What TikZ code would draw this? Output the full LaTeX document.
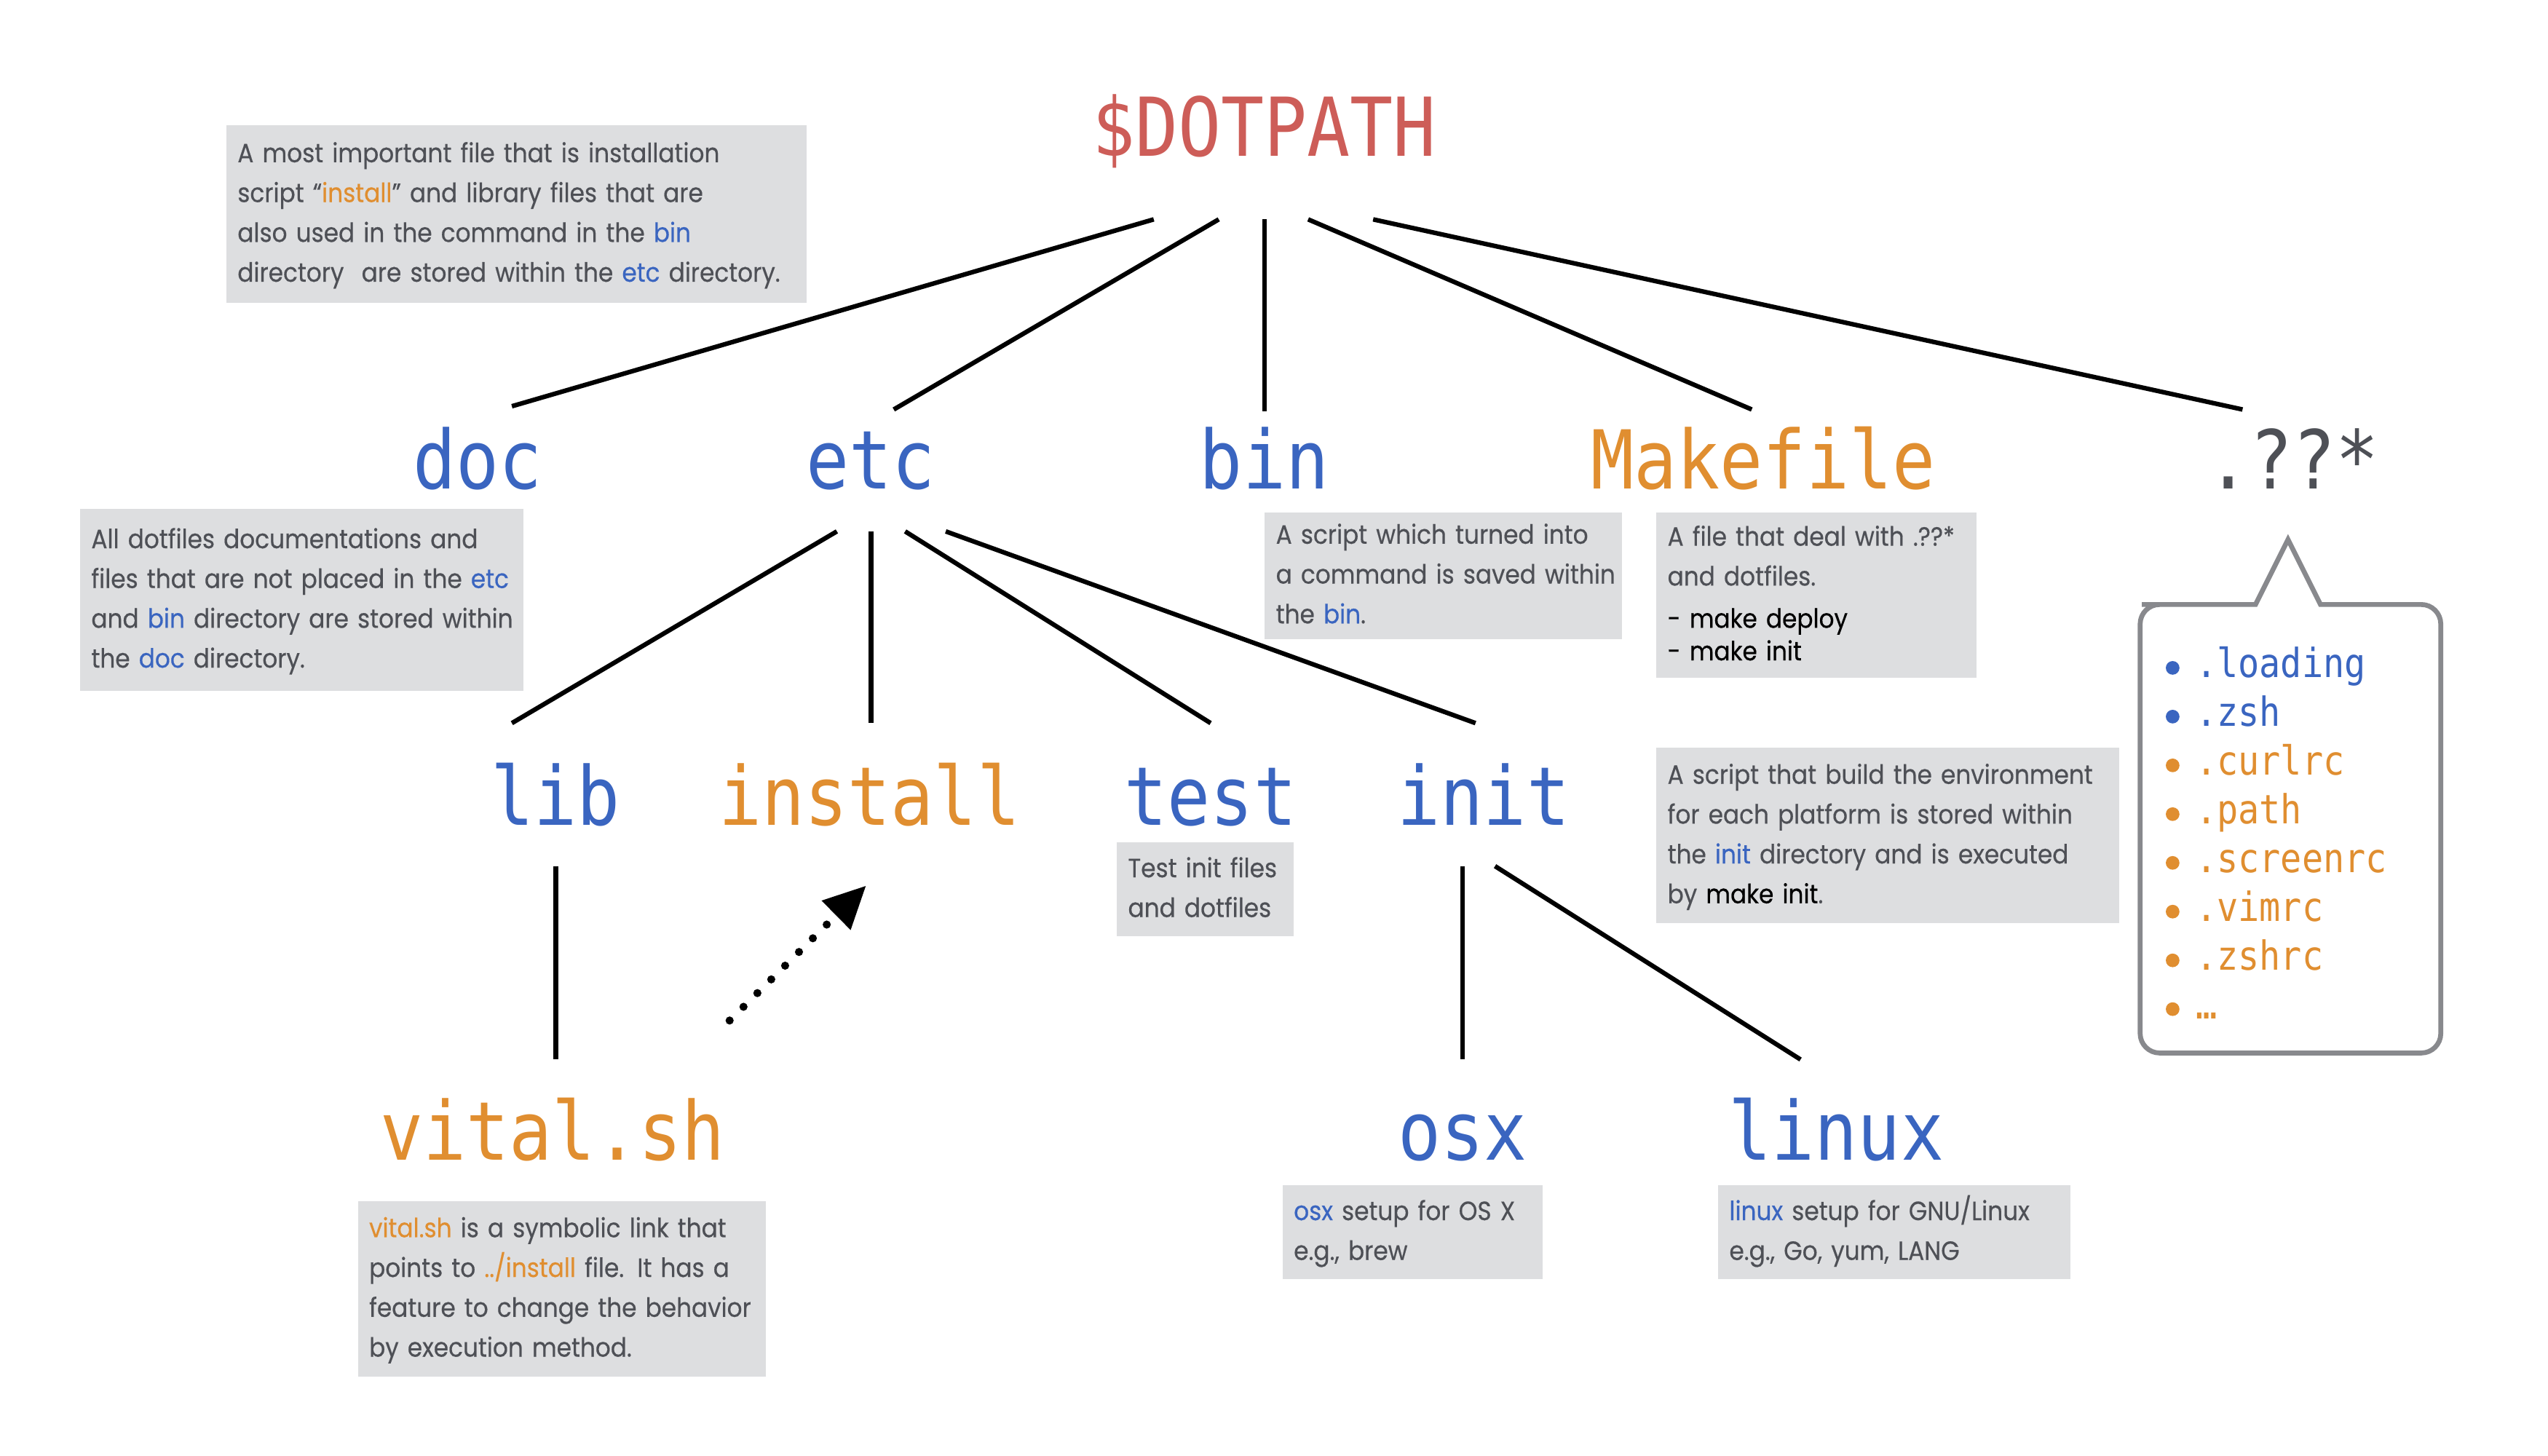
\documentclass[tikz,border=0pt]{standalone}
\usepackage{fontspec}
\usetikzlibrary{calc,arrows.meta}
\newfontfamily\descfont[FakeStretch=0.9,FakeBold=0.4]{Poppins}
\newfontfamily\labfont[FakeStretch=0.88]{DejaVu Sans Mono}
\definecolor{dblue}{RGB}{58,101,192}
\definecolor{dorange}{RGB}{224,142,48}
\definecolor{dred}{RGB}{205,93,88}
\definecolor{txtgray}{RGB}{78,80,86}
\definecolor{boxgray}{RGB}{221,222,224}
\definecolor{bubblegray}{RGB}{136,137,141}
\newcommand\cb[1]{\textcolor{dblue}{#1}}
\newcommand\co[1]{\textcolor{dorange}{#1}}
\newcommand\ck[1]{\textcolor{black}{#1}}
\newcommand\dlines[1]{\begin{tabular}{@{}l@{}}#1\end{tabular}}
\tikzset{
  lab/.style={font=\labfont\fontsize{50}{50}\selectfont, inner sep=0pt, anchor=base},
  item/.style={font=\labfont\fontsize{24.7}{24.7}\selectfont, inner sep=0pt, anchor=base west},
  desc/.style={fill=boxgray, text=txtgray, font=\descfont\fontsize{16.3}{24.5}\selectfont,
    align=left, anchor=north west, inner xsep=7pt, inner ysep=0pt},
  conn/.style={line width=2.8pt, black},
  symlink/.style={line width=5pt, line cap=round, dash pattern=on 0pt off 12pt,
    -{Triangle[length=26pt,width=24pt]}},
  bubble/.style={line width=3pt, draw=bubblegray, fill=white, line join=miter},
}
\begin{document}
\begin{tikzpicture}[x=1pt,y=-1pt]
\useasboundingbox (0,0) rectangle (1568,896);

% labels
\node[lab, text=dred] (root) at (778,96) {\$DOTPATH};
\node[lab, text=dblue] (doc) at (294,301) {doc};
\node[lab, text=dblue] (etc) at (536,301) {etc};
\node[lab, text=dblue] (bin) at (778,301) {bin};
\node[lab, text=dorange] (make) at (1085,301) {Makefile};
\node[lab, text=txtgray] (dots) at (1411,301) {.??*};
\node[lab, text=dblue] (lib) at (342,508) {lib};
\node[lab, text=dorange] (install) at (535,508) {install};
\node[lab, text=dblue] (test) at (745,508) {test};
\node[lab, text=dblue] (init) at (913,508) {init};
\node[lab, text=dorange] (vital) at (340,714) {vital.sh};
\node[lab, text=dblue] (osx) at (900,714) {osx};
\node[lab, text=dblue] (linux) at (1130,714) {linux};

% connectors
\draw[conn] ($(root.base)+(-68,39)$) -- ($(doc.base)+(21,-51)$);
\draw[conn] ($(root.base)+(-28,39)$) -- ($(etc.base)+(14,-49)$);
\draw[conn] ($(root.base)+(0,39)$) -- ($(bin.base)+(0,-48)$);
\draw[conn] ($(root.base)+(27,39)$) -- ($(make.base)+(-7,-49)$);
\draw[conn] ($(root.base)+(67,39)$) -- ($(dots.base)+(-31,-49)$);
\draw[conn] ($(etc.base)+(-21,26)$) -- ($(lib.base)+(-27,-63)$);
\draw[conn] ($(etc.base)+(0,26)$) -- ($(install.base)+(1,-63)$);
\draw[conn] ($(etc.base)+(21,26)$) -- ($(test.base)+(0,-63)$);
\draw[conn] ($(etc.base)+(46,26)$) -- ($(init.base)+(-5,-63)$);
\draw[conn] ($(lib.base)+(0,25)$) -- ($(vital.base)+(2,-62)$);
\draw[conn] ($(init.base)+(-13,25)$) -- ($(osx.base)+(0,-62)$);
\draw[conn] ($(init.base)+(7,25)$) -- ($(linux.base)+(-22,-62)$);
\draw[symlink] ($(vital.base)+(109,-86)$) -- ($(install.base)+(-2,37)$);

% descriptions
\node[desc, text width=343pt, minimum height=109pt] (note1) at (139,77)
  {\dlines{A most important file that is installation\\
   script “\co{install}” and library files that are\\
   also used in the command in the \cb{bin}\\
   directory\ \ are stored within the \cb{etc} directory.}};
\node[desc, text width=259pt, minimum height=112pt] (notedoc) at (49,313)
  {\dlines{All dotfiles documentations and\\
   files that are not placed in the \cb{etc}\\
   and \cb{bin} directory are stored within\\
   the \cb{doc} directory.}};
\node[desc, text width=206pt, minimum height=78pt] (notebin) at (778,315)
  {\dlines{A script which turned into\\
   a command is saved within\\
   the \cb{bin}.}};
\node[desc, text width=183pt, minimum height=102pt] (notemake) at (1019,315)
  {\dlines{A file that deal with .??*\\
   and dotfiles.\\[1.5pt]
   \ck{- make deploy}\\[-4.5pt]
   \ck{- make init}}};
\node[desc, text width=271pt, minimum height=108pt] (noteinit) at (1019,460)
  {\dlines{A script that build the environment\\
   for each platform is stored within\\
   the \cb{init} directory and is executed\\
   by \ck{make init}.}};
\node[desc, text width=95pt, minimum height=58pt] (notetest) at (687,518)
  {\dlines{Test init files\\
   and dotfiles}};
\node[desc, text width=237pt, minimum height=108pt] (notevital) at (220,739)
  {\dlines{\co{vital.sh} is a symbolic link that\\
   points to \co{../install} file. It has a\\
   feature to change the behavior\\
   by execution method.}};
\node[desc, text width=146pt, minimum height=58pt] (noteosx) at (789,729)
  {\dlines{\cb{osx} setup for OS X\\
   e.g., brew}};
\node[desc, text width=203pt, minimum height=58pt] (notelinux) at (1057,729)
  {\dlines{\cb{linux} setup for GNU/Linux\\
   e.g., Go, yum, LANG}};

% speech bubble with dotfiles
\draw[bubble] (1408,332) -- (1428,372) -- (1440,372) [rounded corners=12pt]
  -- (1502,372) -- (1502,648) -- (1317,648) -- (1317,372) -- (1330,372)
  [sharp corners] -- (1388,372) -- cycle;
\foreach \t/\c [count=\k from 0] in {.loading/dblue, .zsh/dblue, .curlrc/dorange,
    .path/dorange, .screenrc/dorange, .vimrc/dorange, .zshrc/dorange, …/dorange}{
  \fill[\c] (1337,411+30*\k) circle (4.2);
  \node[item, text=\c] (item\k) at (1351,417+30*\k) {\t};
}
\end{tikzpicture}
\end{document}
